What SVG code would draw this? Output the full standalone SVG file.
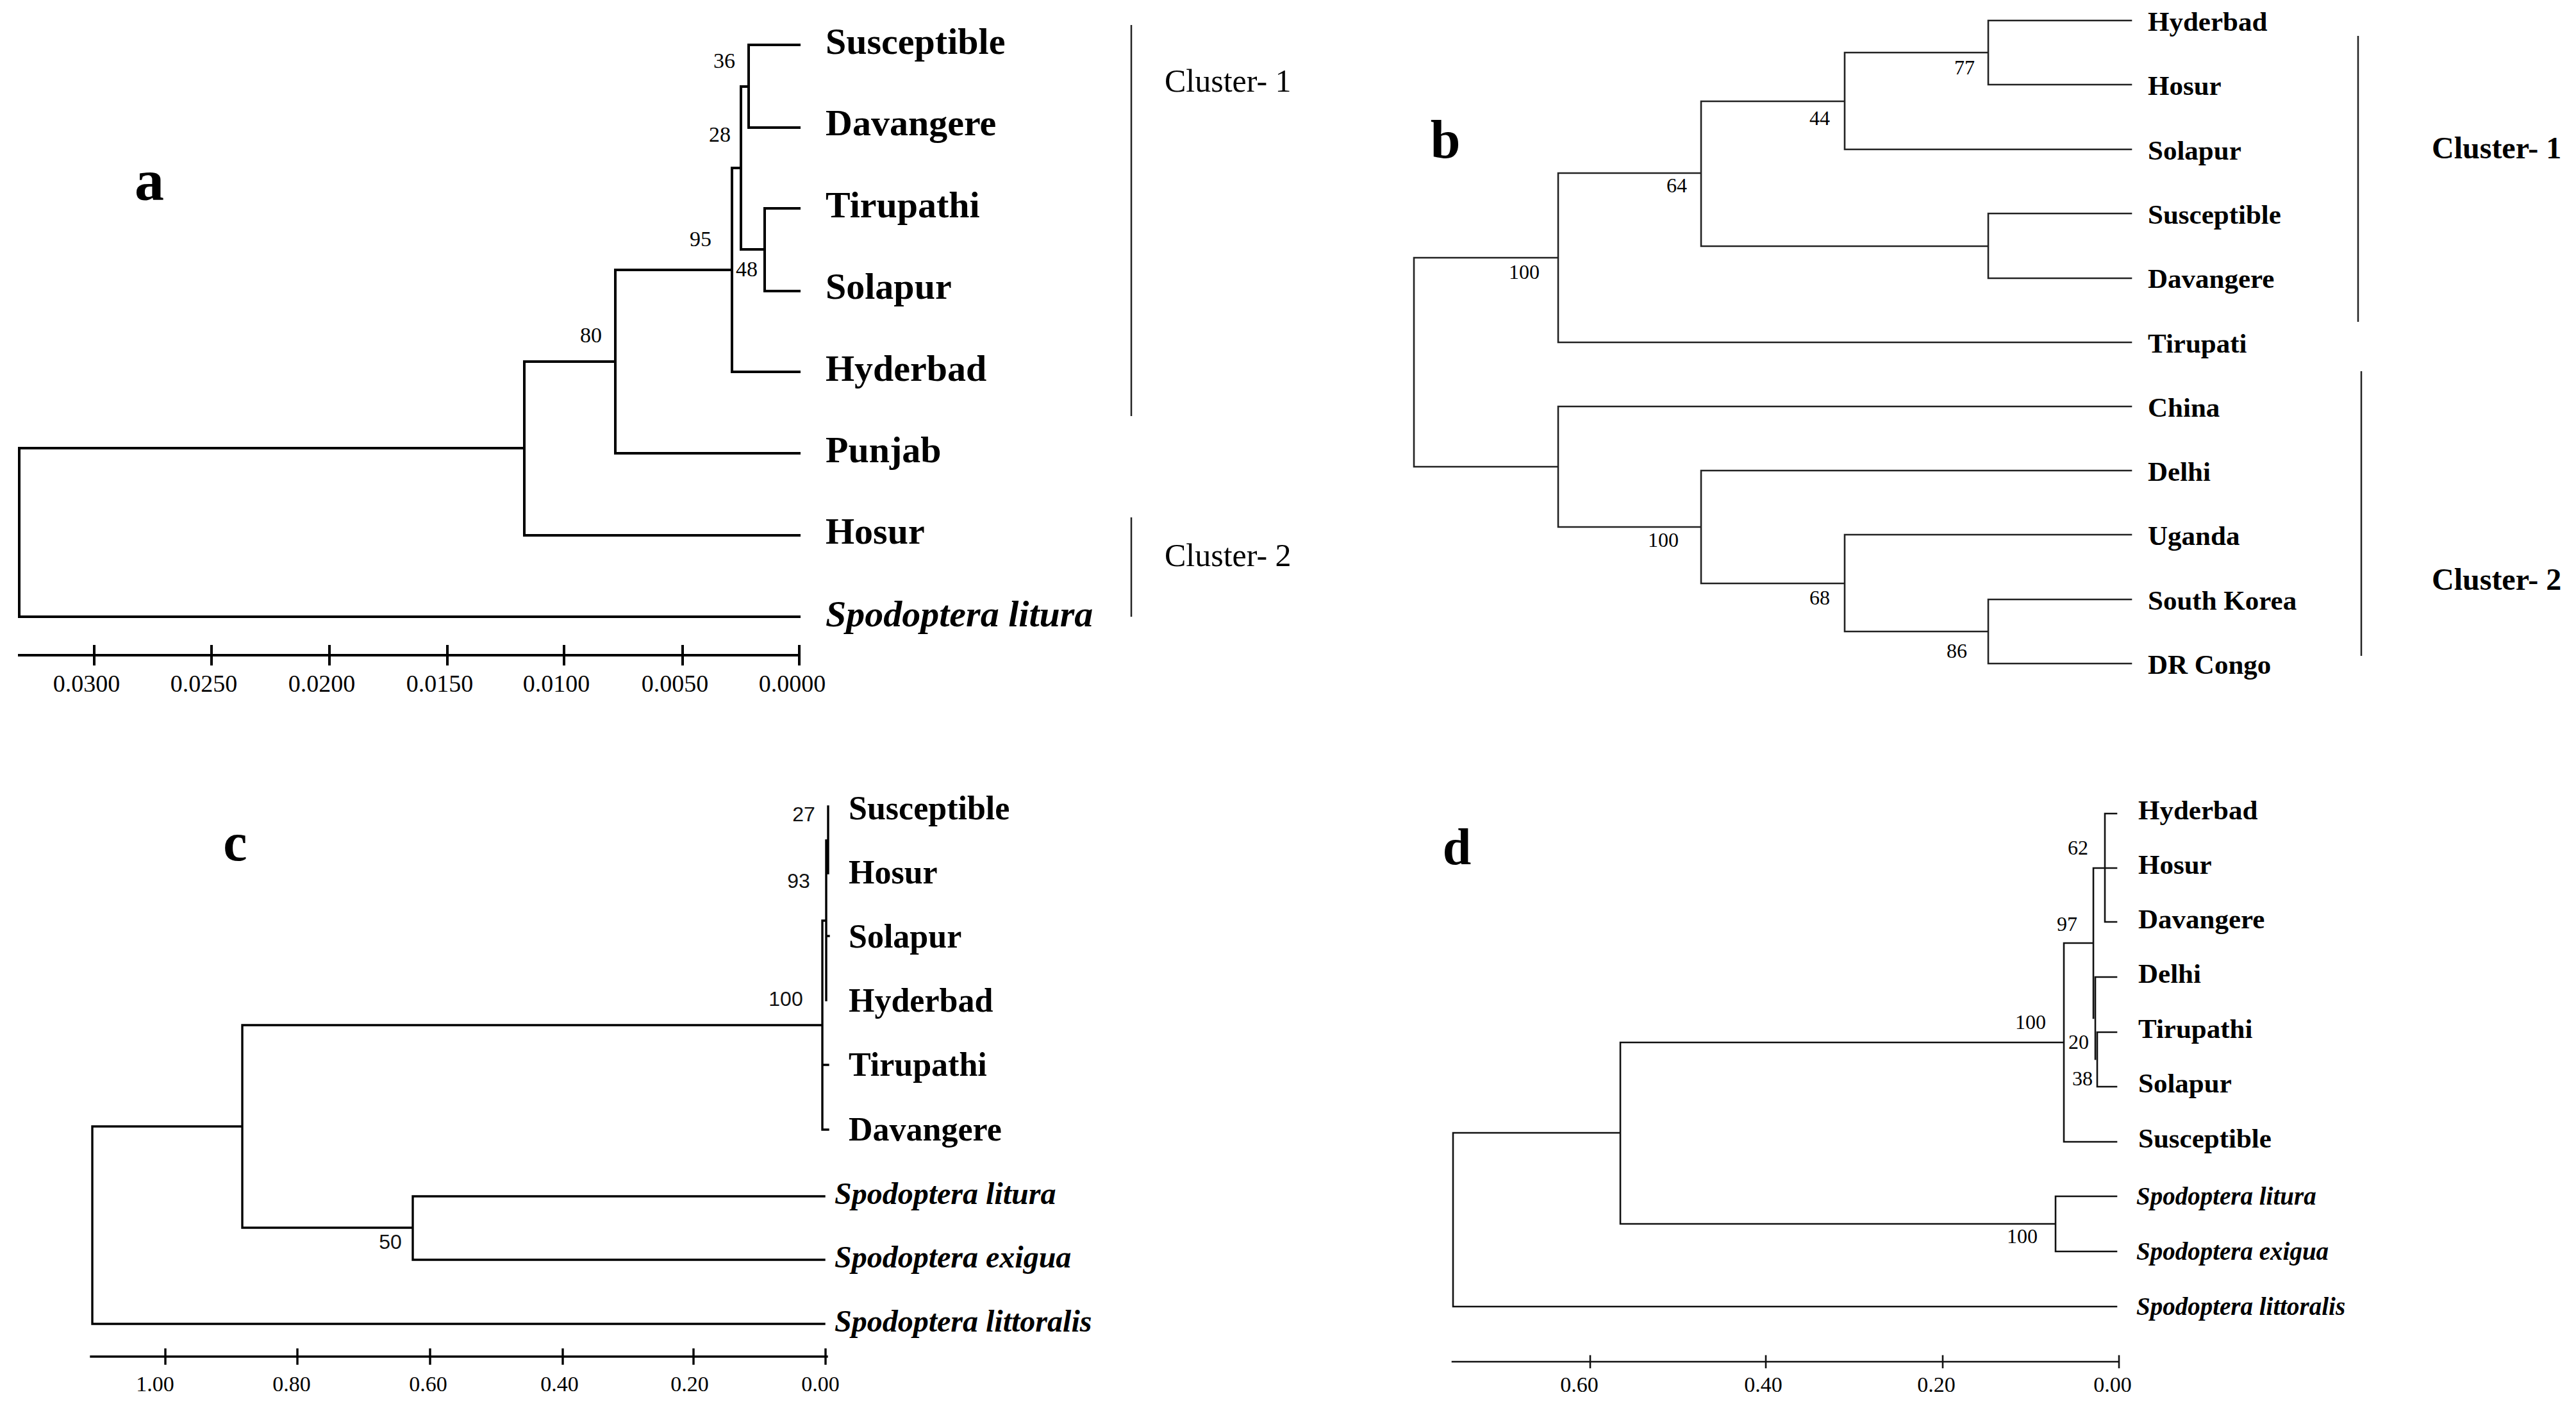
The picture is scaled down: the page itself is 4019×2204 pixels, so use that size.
<svg xmlns="http://www.w3.org/2000/svg" width="4019" height="2204" viewBox="0 0 4019 2204">
<style>
.bg{fill:#ffffff}
.ta{fill:none;stroke:#000;stroke-width:4;stroke-linecap:square}
.tb{fill:none;stroke:#222;stroke-width:2.6;stroke-linecap:square}
.tc{fill:none;stroke:#000;stroke-width:3.4;stroke-linecap:square}
.td{fill:none;stroke:#111;stroke-width:2.6;stroke-linecap:square}
.bar{fill:none;stroke:#222;stroke-width:2.5}
.serif{font-family:"Liberation Serif","Times New Roman",serif;fill:#000}
.sans{font-family:"Liberation Sans",Arial,sans-serif;fill:#111}
.b{font-weight:bold}
.i{font-style:italic}
.mid{text-anchor:middle}
.panel{font-family:"Liberation Serif","Times New Roman",serif;font-weight:bold;fill:#000}
</style>
<rect class="bg" x="0" y="0" width="4019" height="2204"/>

<g id="connectors">
  <g id="tree-a">
    <path class="ta" d="M30 699 V962 M30 699 H818 M30 962 H1247 M818 564 V835 M818 564 H960 M818 835 H1247 M960 421 V707 M960 421 H1142 M960 707 H1247 M1142 262 V580 M1142 262 H1156 M1142 580 H1247 M1156 135 V389 M1156 135 H1168 M1156 389 H1193 M1168 70 V199 M1168 70 H1247 M1168 199 H1247 M1193 325 V454 M1193 325 H1247 M1193 454 H1247"/>
    <path class="ta" d="M30 1022 H1247 M147 1008 V1036 M330 1008 V1036 M514 1008 V1036 M698 1008 V1036 M880 1008 V1036 M1065 1008 V1036 M1247 1008 V1036"/>
    <path class="bar" d="M1765 39 V649 M1765 807 V962"/>
  </g>
  <g id="tree-b">
    <path class="tb" d="M2206 402 V728 M2206 402 H2431 M2206 728 H2431 M2431 270 V534 M2431 270 H2654 M2431 534 H3325 M2654 158 V384 M2654 158 H2878 M2654 384 H3102 M2878 82 V233 M2878 82 H3102 M2878 233 H3325 M3102 32 V132 M3102 32 H3325 M3102 132 H3325 M3102 333 V434 M3102 333 H3325 M3102 434 H3325 M2431 634 V822 M2431 634 H3325 M2431 822 H2654 M2654 734 V910 M2654 734 H3325 M2654 910 H2878 M2878 834 V985 M2878 834 H3325 M2878 985 H3102 M3102 935 V1035 M3102 935 H3325 M3102 1035 H3325"/>
    <path class="bar" d="M3679 56 V502 M3684 579 V1023"/>
  </g>
  <g id="tree-c">
    <path class="tc" d="M144 1757 V2065 M144 1757 H378 M144 2065 H1286 M378 1599 V1915 M378 1599 H1283 M378 1915 H644 M644 1866 V1965 M644 1866 H1286 M644 1965 H1286 M1283 1436 V1762 M1283 1436 H1289 M1289 1311 V1560 M1292 1258 V1362 M1289 1460 H1293 M1283 1661 H1292 M1283 1762 H1292"/>
    <path class="tc" d="M142 2116 H1290 M258 2105 V2127 M464 2105 V2127 M671 2105 V2127 M878 2105 V2127 M1082 2105 V2127 M1288 2105 V2127"/>
  </g>
  <g id="tree-d">
    <path class="td" d="M2267 1767 V2038 M2267 1767 H2528 M2267 2038 H3302 M2528 1626 V1909 M2528 1626 H3220 M2528 1909 H3207 M3207 1866 V1952 M3207 1866 H3302 M3207 1952 H3302 M3220 1471 V1781 M3220 1471 H3266 M3220 1781 H3302 M3266 1354 V1588 M3266 1354 H3302 M3284 1269 V1438 M3284 1269 H3302 M3284 1438 H3302 M3269 1524 V1652 M3269 1524 H3302 M3272 1610 V1695 M3272 1610 H3302 M3272 1695 H3302"/>
    <path class="td" d="M2266 2124 H3306 M2481 2115 V2133 M2755 2115 V2133 M3031 2115 V2133 M3306 2115 V2133"/>
  </g>
</g>

<g id="panel-a">
  <text class="panel" x="233" y="312" font-size="92" text-anchor="middle">a</text>
  <g id="a-leaves" class="serif b" font-size="58">
    <text x="1288" y="84">Susceptible</text>
    <text x="1288" y="211">Davangere</text>
    <text x="1288" y="339">Tirupathi</text>
    <text x="1288" y="466">Solapur</text>
    <text x="1288" y="594">Hyderbad</text>
    <text x="1288" y="721">Punjab</text>
    <text x="1288" y="848">Hosur</text>
    <text x="1288" y="977" class="i">Spodoptera litura</text>
  </g>
  <g id="a-support" class="serif mid" font-size="34">
    <text x="1130" y="106">36</text>
    <text x="1123" y="221">28</text>
    <text x="1093" y="384">95</text>
    <text x="1165" y="431">48</text>
    <text x="922" y="534">80</text>
  </g>
  <g id="a-clusters" class="serif" font-size="50">
    <text x="1817" y="143">Cluster- 1</text>
    <text x="1817" y="883">Cluster- 2</text>
  </g>
  <g id="a-axis" class="serif mid" font-size="38">
    <text x="135" y="1079">0.0300</text>
    <text x="318" y="1079">0.0250</text>
    <text x="502" y="1079">0.0200</text>
    <text x="686" y="1079">0.0150</text>
    <text x="868" y="1079">0.0100</text>
    <text x="1053" y="1079">0.0050</text>
    <text x="1236" y="1079">0.0000</text>
  </g>
</g>

<g id="panel-b">
  <text class="panel" x="2255" y="246" font-size="84" text-anchor="middle">b</text>
  <g id="b-leaves" class="serif b" font-size="43">
    <text x="3351" y="48">Hyderbad</text>
    <text x="3351" y="148">Hosur</text>
    <text x="3351" y="249">Solapur</text>
    <text x="3351" y="349">Susceptible</text>
    <text x="3351" y="449">Davangere</text>
    <text x="3351" y="550">Tirupati</text>
    <text x="3351" y="650">China</text>
    <text x="3351" y="750">Delhi</text>
    <text x="3351" y="850">Uganda</text>
    <text x="3351" y="951">South Korea</text>
    <text x="3351" y="1051">DR Congo</text>
  </g>
  <g id="b-support" class="serif mid" font-size="32">
    <text x="3065" y="116">77</text>
    <text x="2839" y="195">44</text>
    <text x="2616" y="300">64</text>
    <text x="2378" y="435">100</text>
    <text x="2595" y="853">100</text>
    <text x="2839" y="943">68</text>
    <text x="3053" y="1026">86</text>
  </g>
  <g id="b-clusters" class="serif b" font-size="48">
    <text x="3794" y="247">Cluster- 1</text>
    <text x="3794" y="920">Cluster- 2</text>
  </g>
</g>

<g id="panel-c">
  <text class="panel" x="367" y="1342" font-size="84" text-anchor="middle">c</text>
  <g id="c-leaves" class="serif b" font-size="52">
    <text x="1324" y="1278">Susceptible</text>
    <text x="1324" y="1378">Hosur</text>
    <text x="1324" y="1478">Solapur</text>
    <text x="1324" y="1578">Hyderbad</text>
    <text x="1324" y="1678">Tirupathi</text>
    <text x="1324" y="1779">Davangere</text>
  </g>
  <g id="c-species" class="serif b i" font-size="48">
    <text x="1302" y="1878">Spodoptera litura</text>
    <text x="1302" y="1977">Spodoptera exigua</text>
    <text x="1302" y="2077">Spodoptera littoralis</text>
  </g>
  <g id="c-support" class="sans mid" font-size="32">
    <text x="1254" y="1281">27</text>
    <text x="1246" y="1385">93</text>
    <text x="1226" y="1569">100</text>
    <text x="609" y="1948">50</text>
  </g>
  <g id="c-axis" class="serif mid" font-size="34">
    <text x="242" y="2170">1.00</text>
    <text x="455" y="2170">0.80</text>
    <text x="668" y="2170">0.60</text>
    <text x="873" y="2170">0.40</text>
    <text x="1076" y="2170">0.20</text>
    <text x="1280" y="2170">0.00</text>
  </g>
</g>

<g id="panel-d">
  <text class="panel" x="2273" y="1348" font-size="80" text-anchor="middle">d</text>
  <g id="d-leaves" class="serif b" font-size="43">
    <text x="3336" y="1278">Hyderbad</text>
    <text x="3336" y="1363">Hosur</text>
    <text x="3336" y="1448">Davangere</text>
    <text x="3336" y="1533">Delhi</text>
    <text x="3336" y="1619">Tirupathi</text>
    <text x="3336" y="1704">Solapur</text>
    <text x="3336" y="1790">Susceptible</text>
  </g>
  <g id="d-species" class="serif b i" font-size="39">
    <text x="3333" y="1879">Spodoptera litura</text>
    <text x="3333" y="1965">Spodoptera exigua</text>
    <text x="3333" y="2051">Spodoptera littoralis</text>
  </g>
  <g id="d-support" class="serif mid" font-size="32">
    <text x="3242" y="1333">62</text>
    <text x="3225" y="1452">97</text>
    <text x="3168" y="1605">100</text>
    <text x="3243" y="1636">20</text>
    <text x="3249" y="1693">38</text>
    <text x="3155" y="1939">100</text>
  </g>
  <g id="d-axis" class="serif mid" font-size="34">
    <text x="2464" y="2171">0.60</text>
    <text x="2751" y="2171">0.40</text>
    <text x="3021" y="2171">0.20</text>
    <text x="3296" y="2171">0.00</text>
  </g>
</g>
</svg>
